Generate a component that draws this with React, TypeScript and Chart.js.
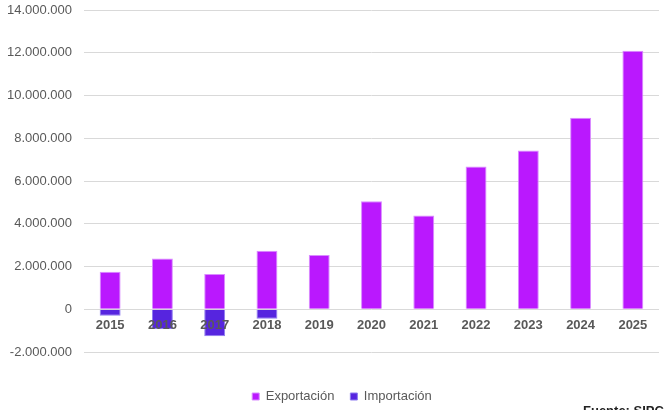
import React, { useEffect, useRef } from "react";
import { Chart, registerables } from "chart.js";

Chart.register(...registerables);

const categories = ["2015", "2016", "2017", "2018", "2019", "2020", "2021", "2022", "2023", "2024", "2025"];
const exportacion = [1760000, 2370000, 1650000, 2740000, 2540000, 5050000, 4390000, 6680000, 7430000, 8960000, 12090000];
const importacion = [-300000, -920000, -1260000, -450000, null, null, null, null, null, null, null];
const yTicks = { min: -2000000, max: 14000000, step: 2000000 };

const fmt = (v: number) => {
  const s = Math.abs(Math.round(v)).toString().replace(/\B(?=(\d{3})+(?!\d))/g, ".");
  return (v < 0 ? "-" : "") + s;
};

const FONT = "Arial, 'Liberation Sans', sans-serif";

const sourcePlugin = {
  id: "sourceText",
  afterLayout(chart: any) {
    if (chart.legend) {
      chart.legend.left += 25;
    }
  },
  afterDraw(chart: any) {
    const ctx = chart.ctx;
    ctx.save();
    ctx.font = `bold 13px ${FONT}`;
    ctx.fillStyle = "#222";
    ctx.textBaseline = "alphabetic";
    ctx.textAlign = "left";
    ctx.fillText("Fuente: SIPC", 583, 415);
    ctx.restore();
  },
};

export default function App() {
  const ref = useRef<HTMLCanvasElement | null>(null);
  useEffect(() => {
    if (!ref.current) return;
    const chart = new Chart(ref.current, {
      type: "bar",
      data: {
        labels: categories,
        datasets: [
          {
            label: "Exportación",
            data: exportacion,
            backgroundColor: "#BA18FE",
            borderColor: "#D98CFF",
            borderWidth: 1,
            categoryPercentage: 0.8,
            barPercentage: 0.5,
          },
          {
            label: "Importación",
            data: importacion as any,
            backgroundColor: "#5625DF",
            borderColor: "#8E7CF0",
            borderWidth: 1,
            categoryPercentage: 0.8,
            barPercentage: 0.5,
          },
        ],
      },
      options: {
        animation: false,
        responsive: true,
        maintainAspectRatio: false,
        layout: { padding: { left: 0, right: 8, top: 10, bottom: 0 } },
        plugins: {
          legend: {
            position: "bottom",
            maxHeight: 58,
            title: { display: true, text: "", font: { size: 10, lineHeight: 1 }, padding: { top: 12, bottom: 0 } },
            labels: {
              boxWidth: 7,
              boxHeight: 7,
              padding: 16,
              color: "#595959",
              font: { family: FONT, size: 13 },
            },
          },
          tooltip: { enabled: false },
        },
        scales: {
          x: {
            stacked: true,
            position: { y: 0 } as any,
            grid: { display: false, drawTicks: false },
            border: { display: false },
            afterFit: (scale: any) => {
              scale.paddingTop = 0;
              scale.paddingBottom = 0;
            },
            ticks: {
              z: 1,
              padding: 8,
              color: "#595959",
              font: { family: FONT, size: 13, weight: "bold" },
            },
          },
          y: {
            stacked: true,
            min: yTicks.min,
            max: yTicks.max,
            afterFit: (scale: any) => {
              scale.width = 84;
              scale.paddingTop = 0;
              scale.paddingBottom = 0;
            },
            grid: { color: "#D9D9D9", lineWidth: 1, drawTicks: false },
            border: { display: false },
            ticks: {
              stepSize: yTicks.step,
              padding: 12,
              color: "#595959",
              font: { family: FONT, size: 13 },
              callback: (v: any) => fmt(Number(v)),
            },
          },
        },
      },
      plugins: [sourcePlugin],
    });
    return () => chart.destroy();
  }, []);
  return (
    <div style={{ position: "fixed", left: 0, top: 0, width: 667, height: 410, background: "#fff" }}>
      <canvas ref={ref} />
    </div>
  );
}
